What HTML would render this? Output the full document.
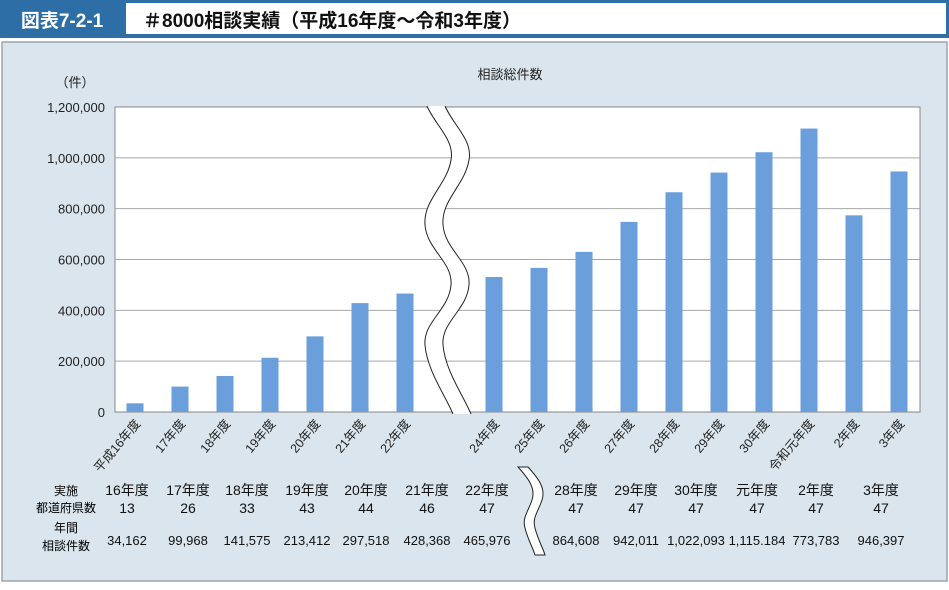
<!DOCTYPE html>
<html><head><meta charset="utf-8"><style>
body{margin:0;width:949px;height:585px;background:#fff;font-family:"Liberation Sans","Noto Sans CJK JP",sans-serif;overflow:hidden}
</style></head><body>
<svg width="949" height="585" xmlns="http://www.w3.org/2000/svg" font-family="Liberation Sans, Noto Sans CJK JP, sans-serif">
<rect x="0" y="0" width="949" height="38" fill="#2e6ea6"/>
<rect x="126" y="3" width="820" height="31" fill="#fff"/>
<text x="62" y="27" fill="#fff" font-size="19" font-weight="bold" text-anchor="middle">図表7-2-1</text>
<text x="143" y="27" fill="#111" font-size="19" font-weight="bold">＃8000相談実績（平成16年度～令和3年度）</text>
<rect x="2" y="42" width="945" height="539" fill="#dae5ed" stroke="#9aa6b0" stroke-width="1.5"/>
<text x="510" y="79" font-size="13" text-anchor="middle" fill="#222">相談総件数</text>
<text x="75" y="87" font-size="13" text-anchor="middle" fill="#222">（件）</text>
<rect x="115" y="107" width="805" height="305" fill="#fff" stroke="#888" stroke-width="1"/>
<g id="grid"></g><g id="yticks"></g><g id="bars"></g><g id="xlabels"></g>
<path d="M427,106 C435,125 455,140 451,160 C447,185 423,200 425,225 C427,250 453,262 451,285 C449,310 423,322 425,345 C427,370 445,395 453,414 L471,414 C463,395 445,370 443,345 C441,322 467,310 469,285 C471,262 445,250 443,225 C441,200 465,185 469,160 C473,140 453,125 445,106 Z" fill="#fff" stroke="none"/>
<path d="M427,106 C435,125 455,140 451,160 C447,185 423,200 425,225 C427,250 453,262 451,285 C449,310 423,322 425,345 C427,370 445,395 453,414 M445,106 C453,125 473,140 469,160 C465,185 441,200 443,225 C445,250 471,262 469,285 C467,310 441,322 443,345 C445,370 463,395 471,414" fill="none" stroke="#222" stroke-width="1"/>
<g id="table" font-size="14" fill="#111" text-anchor="middle"></g>
<path d="M518,467 C528,478 536,488 532,500 C528,512 522,518 525,528 C528,540 533,548 535,555 L545,555 C543,548 538,540 535,528 C532,518 538,512 542,500 C546,488 538,478 528,467 Z" fill="#fff" stroke="#222" stroke-width="1"/>
<text x="66" y="495" font-size="12" text-anchor="middle">実施</text>
<text x="66" y="512" font-size="12" text-anchor="middle">都道府県数</text>
<text x="66" y="532" font-size="12" text-anchor="middle">年間</text>
<text x="66" y="550" font-size="12" text-anchor="middle">相談件数</text>
</svg>
<script>
const categories=["平成16年度","17年度","18年度","19年度","20年度","21年度","22年度","24年度","25年度","26年度","27年度","28年度","29年度","30年度","令和元年度","2年度","3年度"];
const values=[34162,99968,141575,213412,297518,428368,465976,531000,567000,630000,748000,864608,942011,1022093,1115184,773783,946397];
const yTicks=[0,200000,400000,600000,800000,1000000,1200000];
const tableYears=["16年度","17年度","18年度","19年度","20年度","21年度","22年度","28年度","29年度","30年度","元年度","2年度","3年度"];
const tablePrefs=["13","26","33","43","44","46","47","47","47","47","47","47","47"];
const tableCounts=["34,162","99,968","141,575","213,412","297,518","428,368","465,976","864,608","942,011","1,022,093","1,115.184","773,783","946,397"];
const NS="http://www.w3.org/2000/svg";
function y(v){return 412-v/1200000*305;}
function x(i){return i<7?135+i*45:494+(i-7)*45;}
function mk(t,a,p){const e=document.createElementNS(NS,t);for(const k in a)e.setAttribute(k,a[k]);document.getElementById(p).appendChild(e);return e;}
yTicks.forEach(v=>{
  if(v>0&&v<1200000){const l=mk('line',{x1:115,x2:920,y1:y(v),y2:y(v),stroke:'#a8a8a8','stroke-width':1},'grid');
  
  }
  const t=mk('text',{x:105,y:y(v)+5,'font-size':13,'text-anchor':'end',fill:'#222'},'yticks');t.textContent=v.toLocaleString('en-US');
  
  
});
values.forEach((v,i)=>{
  const r=mk('rect',{x:x(i)-8.5,y:y(v),width:17,height:412-y(v),fill:'#6a9fdb'},'bars');
  
  
  const t=mk('text',{x:0,y:0,'font-size':12.5,'text-anchor':'end',fill:'#222',transform:`translate(${x(i)+6},${424}) rotate(-50)`},'xlabels');t.textContent=categories[i];
  
  
});
const tx=[127,188,247,307,366,427,487,576,636,696,757,816,881];
tableYears.forEach((s,i)=>{
  const a=mk('text',{x:tx[i],y:495},'table');a.textContent=s;
  
  
  const b=mk('text',{x:tx[i],y:513},'table');b.textContent=tablePrefs[i];
  
  
  const c=mk('text',{x:tx[i],y:545,'font-size':13},'table');c.textContent=tableCounts[i];
  
  
});
</script>
</body></html>
